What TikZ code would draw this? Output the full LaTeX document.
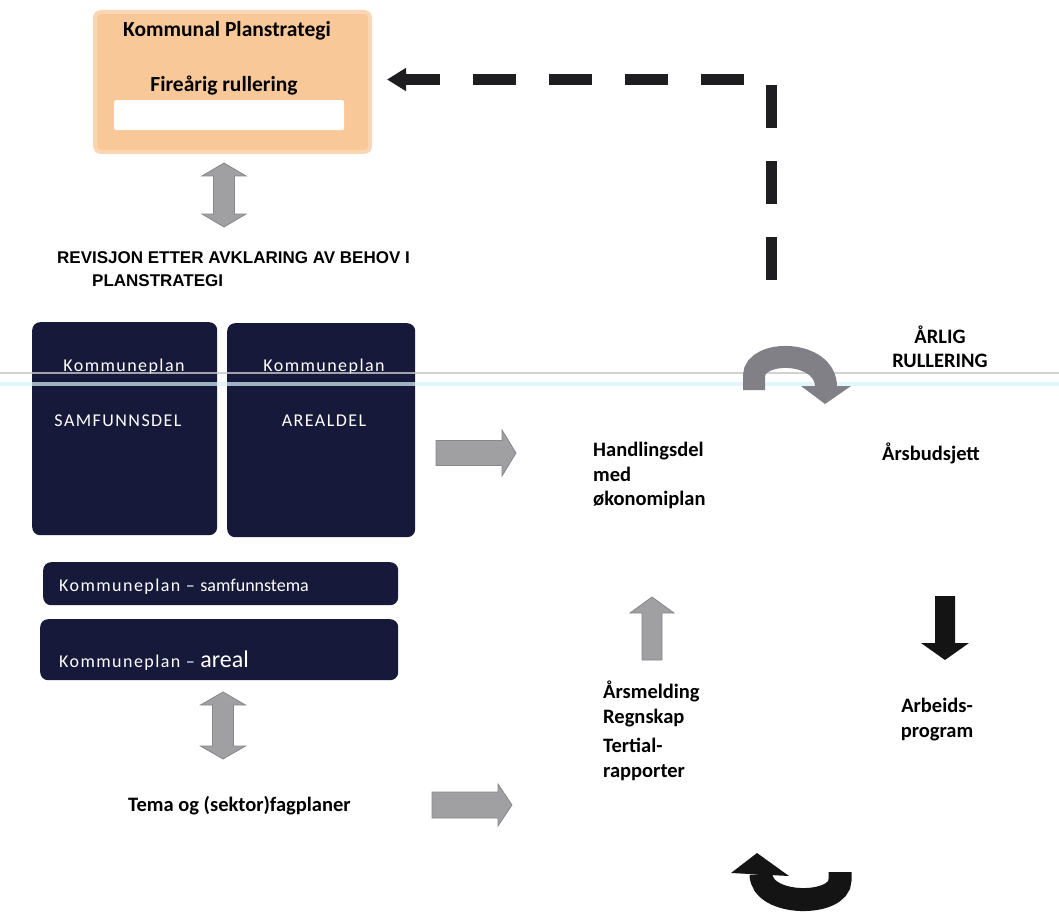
\documentclass[tikz,border=0pt]{standalone}
\usepackage{fontspec}
\setmainfont{Carlito}
\newfontfamily\boxfont[LetterSpace=8]{Carlito}
\newfontfamily\arialfont{Liberation Sans}
\usetikzlibrary{arrows.meta}
\definecolor{navy}{RGB}{22,25,58}
\definecolor{orangefill}{RGB}{249,200,152}
\definecolor{orangeedge}{RGB}{251,214,178}
\definecolor{arrgray}{RGB}{160,160,163}
\definecolor{arredge}{RGB}{135,135,140}
\definecolor{curvgray}{RGB}{128,128,134}
\definecolor{dashblack}{RGB}{30,30,32}
\newcommand\vdblarrow[6]{% xc, ytop, ybot, headlen, shafthalf, headhalf
  \filldraw[garrow] (#1,#2) -- ({#1+#6},{#2+#4}) -- ({#1+#5},{#2+#4}) -- ({#1+#5},{#3-#4}) -- ({#1+#6},{#3-#4}) -- (#1,#3) -- ({#1-#6},{#3-#4}) -- ({#1-#5},{#3-#4}) -- ({#1-#5},{#2+#4}) -- ({#1-#6},{#2+#4}) -- cycle;}
\newcommand\rblkarrow[6]{% xstart, xtip, yc, headlen, shafthalf, headhalf
  \filldraw[garrow] (#1,{#3-#5}) -- ({#2-#4},{#3-#5}) -- ({#2-#4},{#3-#6}) -- (#2,#3) -- ({#2-#4},{#3+#6}) -- ({#2-#4},{#3+#5}) -- (#1,{#3+#5}) -- cycle;}
\begin{document}
\begin{tikzpicture}[x=1pt,y=-1pt,
  lbl/.style={font=\fontsize{20.5}{25}\selectfont\bfseries, inner sep=0pt, text=black},
  revlbl/.style={font=\arialfont\fontsize{17}{21}\selectfont\bfseries, inner sep=0pt, text=black},
  boxtxt/.style={font=\boxfont\fontsize{18}{22}\selectfont, text=white, inner sep=0pt},
  navybox/.style={fill=navy, rounded corners=8pt, inner sep=0pt, anchor=north west},
  garrow/.style={fill=arrgray, draw=arredge, line width=0.8pt},
]
\useasboundingbox[fill=white] (0,0) rectangle (1059,912);

% orange plan strategy box
\node[fill=orangefill, draw=orangeedge, line width=4pt, rounded corners=6pt, anchor=north west,
      minimum width=275pt, minimum height=140pt, inner sep=0pt] (plan) at (93,10) {};
\node[fill=white, rounded corners=2pt, anchor=north west, minimum width=230pt, minimum height=30pt, inner sep=0pt] (bar) at (114,100) {};
\node[lbl, font=\fontsize{21.5}{25}\selectfont\bfseries, anchor=base] (kplan) at (227,37) {Kommunal Planstrategi};
\node[lbl, font=\fontsize{21.5}{25}\selectfont\bfseries, anchor=base] (firear) at (224,92) {Fireårig rullering};

% dashed feedback arrow
\coordinate (dstart) at (771,280);
\draw[line width=11pt, dashblack, dash pattern=on 43pt off 33pt, -{Triangle[length=19pt,width=22pt]}]
  (dstart) |- ([xshift=15pt,yshift=2.5pt]plan.east);

% double arrow below plan
\vdblarrow{224}{163}{227}{13}{10.5}{22}

% revision text
\node[revlbl, anchor=base west] (rev1) at (57,263) {REVISJON ETTER AVKLARING AV BEHOV I};
\node[revlbl, anchor=base west] (rev2) at (92,286) {PLANSTRATEGI};

% navy boxes
\node[navybox, minimum width=185pt, minimum height=213pt] (samf) at (32,322) {};
\node[navybox, minimum width=188pt, minimum height=214pt] (areal) at (227,323) {};
\node[navybox, minimum width=355pt, minimum height=43pt] (tema1) at (43,562) {};
\node[navybox, minimum width=358pt, minimum height=61pt] (tema2) at (40,619) {};

\node[boxtxt, anchor=base] (k1) at (124,371) {Kommuneplan};
\node[boxtxt, anchor=base] (s1) at (118,426) {SAMFUNNSDEL};
\node[boxtxt, anchor=base] (k2) at (324,371) {Kommuneplan};
\node[boxtxt, anchor=base] (a2) at (324,426) {AREALDEL};
\node[boxtxt, anchor=base west] (k3) at (59,591) {Kommuneplan – {\rmfamily samfunnstema}};
\node[boxtxt, anchor=base west] (k4) at (59,667) {Kommuneplan – {\rmfamily\fontsize{24}{24}\selectfont areal}};

% scan lines
\draw[gray!45, line width=2pt, opacity=0.8] (0,373) -- (1059,373);
\draw[cyan!15, line width=4pt, opacity=0.7] (0,384) -- (1059,384);

% double arrow below boxes
\vdblarrow{223}{692}{759}{13}{10.5}{22.5}

% right arrows
\rblkarrow{436}{516}{453}{14}{12.5}{23}
\rblkarrow{432}{512}{805}{14}{13}{21}

% right column texts
\node[lbl, anchor=base west] (hd1) at (593,456) {Handlingsdel};
\node[lbl, anchor=base west] (hd2) at (593,481) {med};
\node[lbl, anchor=base west] (hd3) at (593,505) {økonomiplan};

\node[lbl, anchor=base] (ar1) at (940,343) {ÅRLIG};
\node[lbl, anchor=base] (ar2) at (940,367) {RULLERING};
\node[lbl, anchor=base west] (bud) at (882,460) {Årsbudsjett};

\node[lbl, anchor=base west] (am1) at (603,698) {Årsmelding};
\node[lbl, anchor=base west] (am2) at (603,723) {Regnskap};
\node[lbl, anchor=base west] (am3) at (603,752) {Tertial-};
\node[lbl, anchor=base west] (am4) at (603,777) {rapporter};

\node[lbl, anchor=base] (ab1) at (937,712) {Arbeids-};
\node[lbl, anchor=base] (ab2) at (937,737) {program};

\node[lbl, anchor=base west] (tema) at (128,811) {Tema og (sektor)fagplaner};

% up (gray) and down (black) arrows
\filldraw[garrow] (652,597) -- (674,613) -- (662,613) -- (662,660) -- (642,660) -- (642,613) -- (630,613) -- cycle;
\fill[black!92] (945,660) -- (969,643) -- (955,643) -- (955,596) -- (935,596) -- (935,643) -- (921,643) -- cycle;

% curved arrows
\draw[line width=22pt, curvgray] (754,390) -- (754,376) .. controls (754,349) and (826,349) .. (826,387);
\fill[curvgray] (801,386) -- (851,386) -- (825,404) -- cycle;
\draw[line width=23pt, black!92] (840,872) -- (840,880) .. controls (840,907) and (761,907) .. (761,874);
\fill[black!92] (731,873) -- (789,876) -- (757,853) -- cycle;
\end{tikzpicture}
\end{document}
